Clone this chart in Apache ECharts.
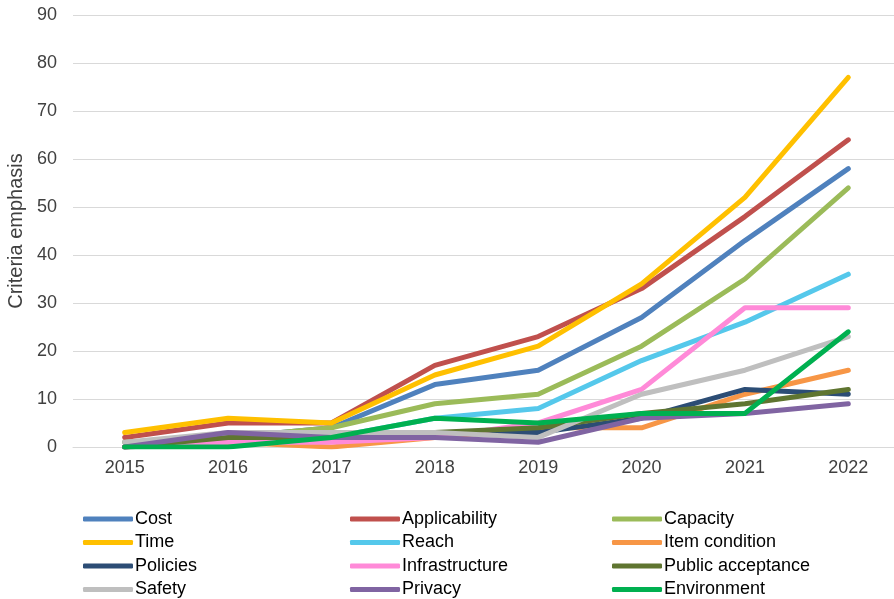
<!DOCTYPE html>
<html><head><meta charset="utf-8">
<script src="https://cdn.jsdelivr.net/npm/echarts@6/dist/echarts.min.js"></script>
<style>html,body{margin:0;padding:0;background:#fff}#c{width:894px;height:599px}</style>
</head><body><div id="c"></div>
<script>
const years = ['2015','2016','2017','2018','2019','2020','2021','2022'];
const cost = [1, 2, 4, 13, 16, 27, 43, 58];
const applicability = [2, 5, 5, 17, 23, 33, 48, 64];
const capacity = [1, 2, 4, 9, 11, 21, 35, 54];
const time = [3, 6, 5, 15, 21, 34, 52, 77];
const reach = [0, 1, 2, 6, 8, 18, 26, 36];
const itemCondition = [0, 1, 0, 2, 4, 4, 11, 16];
const policies = [0, 2, 2, 3, 3, 6, 12, 11];
const infrastructure = [0, 1, 1, 2, 5, 12, 29, 29];
const publicAcceptance = [0, 2, 2, 3, 4, 7, 9, 12];
const safety = [1, 3, 3, 3, 2, 11, 16, 23];
const privacy = [0, 3, 2, 2, 1, 6, 7, 9];
const environment = [0, 0, 2, 6, 5, 7, 7, 24];
const yTicks = [0, 10, 20, 30, 40, 50, 60, 70, 80, 90];

const seriesDefs = [
  ['Cost', cost, '#4F81BD'],
  ['Applicability', applicability, '#C0504D'],
  ['Capacity', capacity, '#9BBB59'],
  ['Time', time, '#FFC000'],
  ['Reach', reach, '#55C8EB'],
  ['Item condition', itemCondition, '#F79646'],
  ['Policies', policies, '#2C4D75'],
  ['Infrastructure', infrastructure, '#FF8AD8'],
  ['Public acceptance', publicAcceptance, '#5F7530'],
  ['Safety', safety, '#BFBFBF'],
  ['Privacy', privacy, '#8064A2'],
  ['Environment', environment, '#00B050']
];
const font = 'Arial, "Liberation Sans", sans-serif';
const legendCols = [
  {left: 83, names: ['Cost','Time','Policies','Safety']},
  {left: 350, names: ['Applicability','Reach','Infrastructure','Privacy']},
  {left: 612, names: ['Capacity','Item condition','Public acceptance','Environment']}
];
const chart = echarts.init(document.getElementById('c'));
chart.setOption({
  animation: false,
  backgroundColor: '#fff',
  grid: {left: 73, width: 827, top: 15, bottom: 152, containLabel: false, outerBoundsMode: 'none'},
  legend: legendCols.map(c => ({
    orient: 'vertical', left: c.left, top: 510, data: c.names,
    icon: 'roundRect', itemWidth: 50, itemHeight: 5, itemGap: 5.5,
    textStyle: {fontFamily: font, fontSize: 18, color: '#000', padding: [0,0,0,-3], lineHeight: 18},
    padding: 0
  })),
  xAxis: {
    type: 'category', data: years, boundaryGap: true,
    axisLine: {lineStyle: {color: '#D9D9D9', width: 1}},
    axisTick: {show: false},
    axisLabel: {fontFamily: font, fontSize: 18, color: '#404040', margin: 12}
  },
  yAxis: {
    type: 'value', min: yTicks[0], max: yTicks[yTicks.length-1], interval: 10,
    name: 'Criteria emphasis', nameLocation: 'middle', nameGap: 44,
    nameTextStyle: {fontFamily: font, fontSize: 20, color: '#404040'},
    axisLine: {show: false}, axisTick: {show: false},
    splitLine: {lineStyle: {color: '#D9D9D9', width: 1}},
    axisLabel: {fontFamily: font, fontSize: 18, color: '#404040', margin: 16}
  },
  series: seriesDefs.map(([name, data, color]) => ({
    name, type: 'line', data, symbol: 'none', color,
    lineStyle: {width: 5, color, cap: 'round', join: 'round'},
    itemStyle: {color}
  }))
});
</script></body></html>
